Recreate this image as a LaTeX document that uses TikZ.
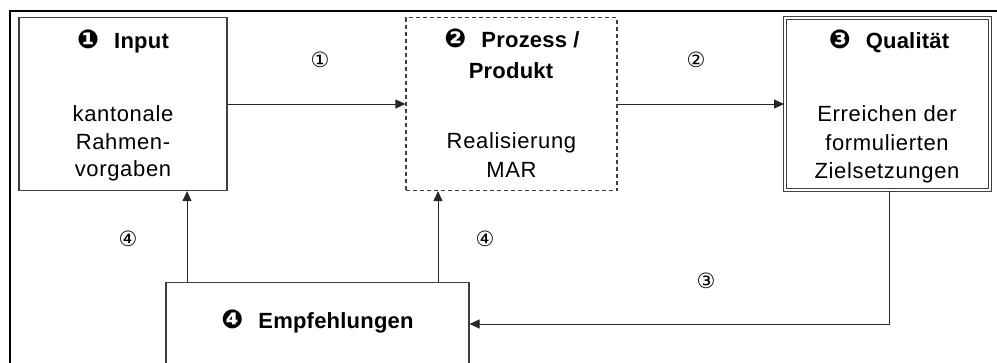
\documentclass[tikz,border=0pt]{standalone}
\usepackage{fontspec}
\setmainfont{Liberation Sans}[LetterSpace=3, BoldFeatures={LetterSpace=1}]
\newfontfamily\sym{DejaVu Sans}
\usetikzlibrary{arrows.meta}
\definecolor{boxgray}{HTML}{404040}
\tikzset{
  box/.style={draw=boxgray, line width=1.2pt, inner sep=0pt},
  dbox/.style={draw=boxgray, line width=1pt, double=white, double distance=2pt, inner sep=0pt},
  dbx/.style={draw=boxgray, line width=1.2pt, dash pattern=on 4pt off 3pt, inner sep=0pt},
  ln/.style={draw=black!85, line width=1pt},
  arr/.style={ln, -{Triangle[length=10pt,width=9pt]}},
  hd/.style={anchor=base, inner sep=0pt, font=\fontsize{22}{26}\selectfont\bfseries},
  tx/.style={anchor=base, inner sep=0pt, font=\fontsize{22}{26}\selectfont},
  num/.style={inner sep=0pt, font=\sym\fontsize{21}{21}\selectfont}
}
\newcommand{\dg}[1]{{\sym\fontsize{26}{26}\selectfont #1}\hspace{15pt}}
\begin{document}
\begin{tikzpicture}[x=1pt,y=-1pt]
\useasboundingbox (0,0) rectangle (997,362);
\clip (0,0) rectangle (997,362);
% outer frame
\draw[line width=2pt] (10,363) -- (10,11) -- (998,11);
% boxes
\node[box, minimum width=208pt, minimum height=173pt] (in) at (123,104) {};
\node[dbx, minimum width=211pt, minimum height=173pt] (pr) at (511.5,104) {};
\node[dbox, minimum width=205pt, minimum height=172pt] (ql) at (887,104) {};
\node[box, minimum width=303pt, minimum height=130pt, anchor=north] (em) at (317.5,282) {};
% texts
\node[hd] (inh) at (123,48) {\dg{❶}Input};
\node[tx] (in1) at (123,121) {kantonale};
\node[tx] (in2) at (123,149) {Rahmen-};
\node[tx] (in3) at (123,176) {vorgaben};
\node[hd] (prh1) at (512,47) {\dg{❷}Prozess /};
\node[hd] (prh2) at (511,78) {Produkt};
\node[tx] (pr1) at (511.5,148) {Realisierung};
\node[tx] (pr2) at (511.5,177) {MAR};
\node[hd] (qlh) at (889,48) {\dg{❸}Qualität};
\node[tx] (ql1) at (887,121.5) {Erreichen der};
\node[tx] (ql2) at (887,150) {formulierten};
\node[tx] (ql3) at (887,178) {Zielsetzungen};
\node[hd] (emh) at (317.5,328) {\dg{❹}Empfehlungen};
% numbers
\node[num] (n1) at (320,60) {①};
\node[num] (n2) at (696,60) {②};
\node[num] (n3) at (706,281) {③};
\node[num] (n4a) at (128,239) {④};
\node[num] (n4b) at (485,239) {④};
% connectors
\coordinate (xa) at (187,0);
\coordinate (xb) at (438,0);
\coordinate (xc) at (889,0);
\coordinate (yc) at (0,324);
\draw[arr] (in.east) -- (pr.west);
\draw[arr] (pr.east) -- (ql.west);
\draw[arr] (ql.south -| xc) |- (em.east |- yc);
\draw[arr] (em.north -| xa) -- (in.south -| xa);
\draw[arr] (em.north -| xb) -- (pr.south -| xb);
\end{tikzpicture}
\end{document}
